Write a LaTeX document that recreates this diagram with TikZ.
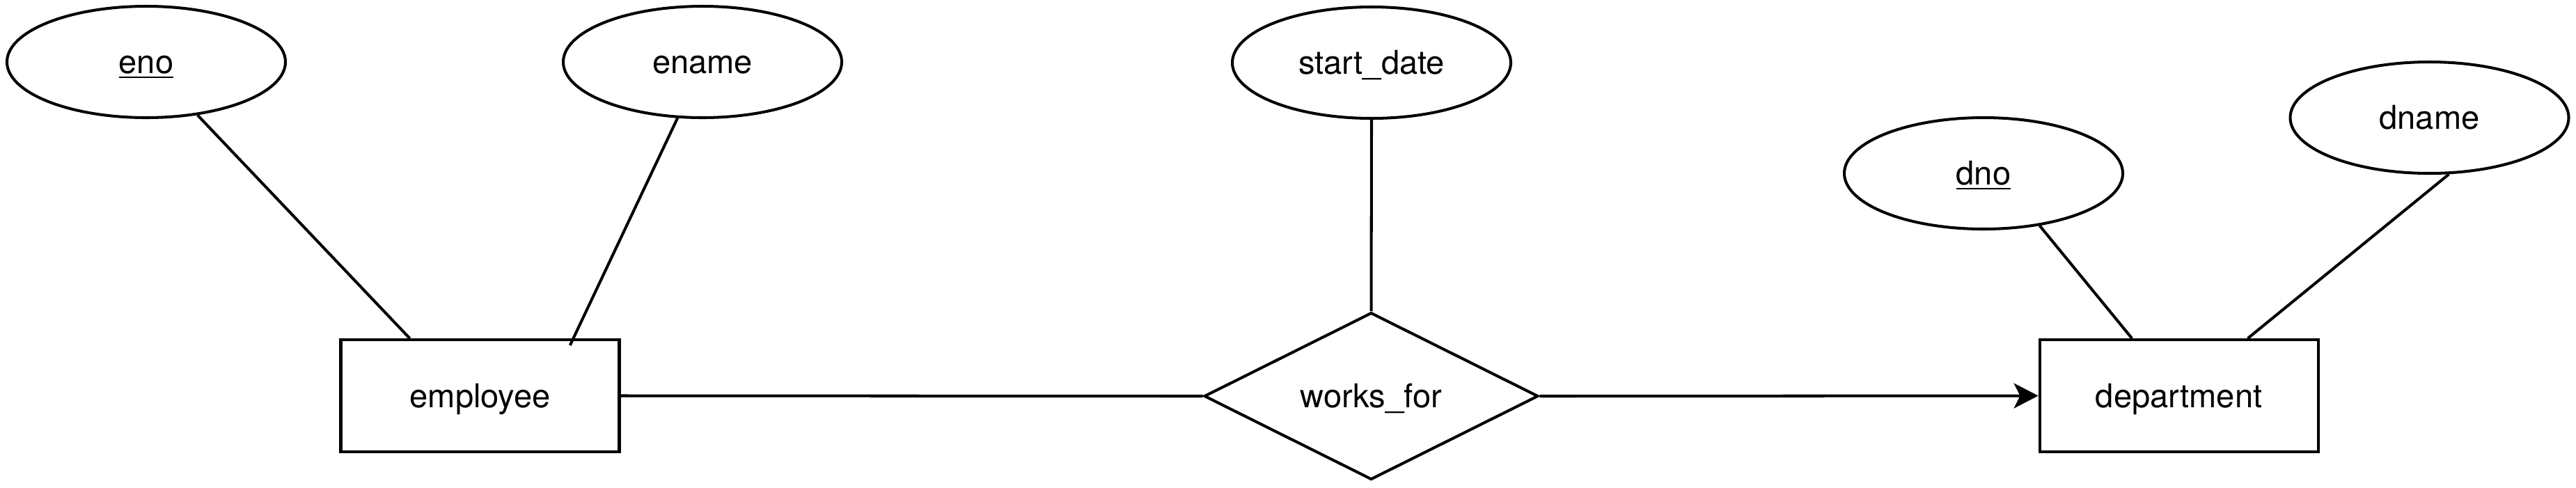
\documentclass[tikz,border=0pt]{standalone}
\usepackage{fontspec}
\setmainfont{TeX Gyre Heros}
\usetikzlibrary{shapes.geometric,arrows.meta,calc}

\begin{document}
\begin{tikzpicture}[
	line width=1.15pt,
	font=\fontsize{13.4}{16}\selectfont,
	every node/.style={text height=0.5cm, text depth=0.17cm},
	attribute/.style={draw, ellipse, inner sep=0pt, minimum width=4cm, minimum height=1.6cm},
	entity/.style={draw, rectangle, inner sep=0pt, minimum width=4cm, minimum height=1.61cm},
	relation/.style={draw, diamond, aspect=2, inner sep=0pt, minimum width=4.8cm, minimum height=2.4cm},
	link/.style={draw},
	tolink/.style={draw, -{Stealth[length=3.5mm, width=3.6mm, inset=0.9mm]}}
	]
	\useasboundingbox (0,0) rectangle (37,7);
	\node [attribute] (eno) at (2.10,6.11) {\underline{eno}};
	\node [attribute] (ename) at (10.09,6.11) {ename};
	\node [attribute] (startdate) at (19.70,6.10) {start\_date};
	\node [attribute] (dno) at (28.49,4.51) {\underline{dno}};
	\node [attribute] (dname) at (34.895,5.31) {dname};
	\node [entity] (employee) at (6.895,1.315) {employee};
	\node [relation] (worksfor) at (19.695,1.31) {works\_for};
	\node [entity] (department) at (31.296,1.315) {department};

	\path [link] (eno.-46) -- ($(employee.north west)!0.25!(employee.north east)$);
	\path [link] (ename.-114) -- ($(employee.north west)!0.82!(employee.north east)+(0,-0.1)$);
	\path [link] (startdate.south) -- (worksfor.north);
	\path [link] (employee.east) -- (worksfor.west);
	\path [tolink] (worksfor.east) -- (department.west);
	\path [link] (dno.-43) -- ($(department.north west)!0.333!(department.north east)$);
	\path [link] (dname.-71) -- ($(department.north west)!0.745!(department.north east)$);
\end{tikzpicture}
\end{document}
